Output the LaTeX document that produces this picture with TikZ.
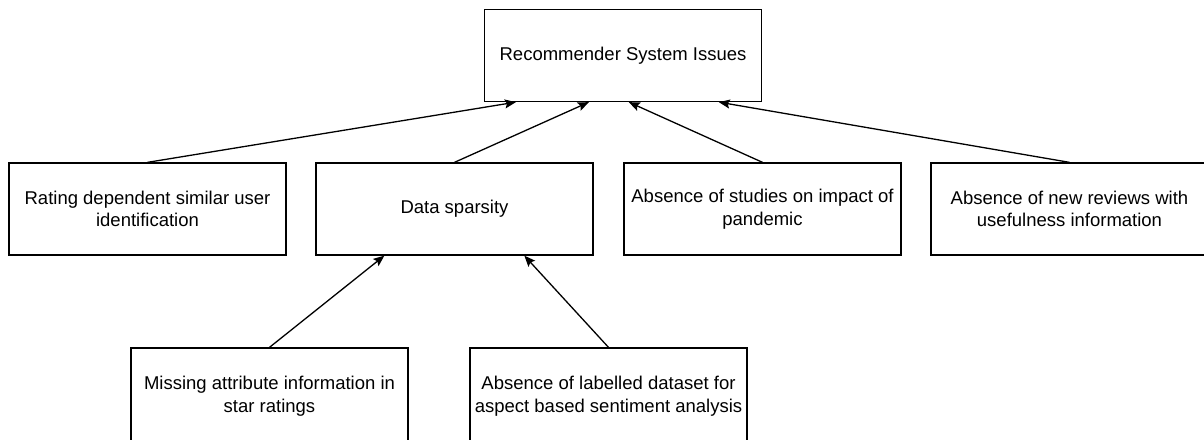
\documentclass[tikz,border=0pt]{standalone}
\usepackage{fontspec}
\setmainfont{Liberation Sans}
\usetikzlibrary{arrows.meta,calc}

\tikzset{
  issue/.style={draw=black, line width=1.3pt, fill=white,
    minimum width=277pt, minimum height=92pt, inner sep=0pt,
    align=center, font=\fontsize{18.5}{22.5}\selectfont},
  link/.style={draw=black, line width=1.3pt,
    -{Stealth[length=11pt, width=9pt, inset=2pt]}}
}

\begin{document}
\begin{tikzpicture}[x=1pt, y=-1pt]
  \useasboundingbox (0,0) rectangle (1204,439);
  \clip (0,0) rectangle (1204,439);

  % root problem
  \node[issue] (root) at (623,55.5) {Recommender System Issues};

  % first level of issues
  \node[issue] (rating)   at (147.5,209) {Rating dependent similar user\\identification};
  \node[issue] (sparsity) at (454.5,209) {Data sparsity};
  \node[issue] (pandemic) at (762.5,209) {Absence of studies on impact of\\pandemic};
  \node[issue] (reviews)  at (1069.5,209) {Absence of new reviews with\\usefulness information};

  % causes of data sparsity (boxes run past the lower edge)
  \node[issue, minimum height=96pt] (attrib) at (269.5,396) {Missing attribute information in\\star ratings};
  \node[issue, minimum height=96pt] (labels) at (608.5,396) {Absence of labelled dataset for\\aspect based sentiment analysis};

  % connectors
  \draw[link] (rating.north)   -- ($(root.south west)+(32,0)$);
  \draw[link] (sparsity.north) -- ($(root.south west)+(105,0)$);
  \draw[link] (pandemic.north) -- ($(root.south west)+(145,0)$);
  \draw[link] (reviews.north)  -- ($(root.south west)+(235,0)$);

  \draw[link] (attrib.north) -- ($(sparsity.south west)+(69,0)$);
  \draw[link] (labels.north) -- ($(sparsity.south west)+(209,0)$);
\end{tikzpicture}
\end{document}
